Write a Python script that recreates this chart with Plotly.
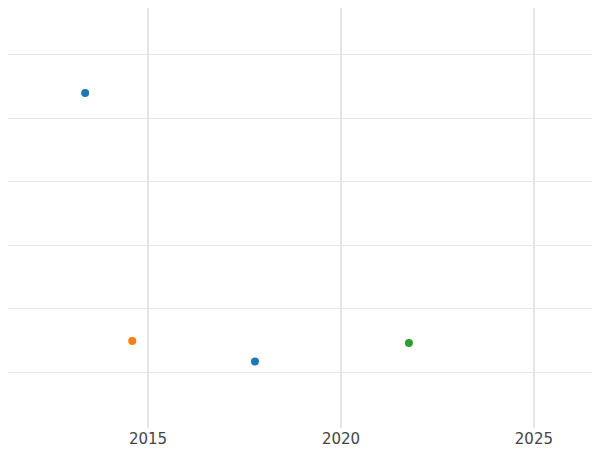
import plotly.graph_objects as go

years_a = [2013.37, 2017.77]
vals_a = [4.40, 0.17]
years_b = [2014.59]
vals_b = [0.49]
years_c = [2021.76]
vals_c = [0.46]

fig = go.Figure()
fig.add_trace(go.Scatter(x=years_a, y=vals_a, mode="markers", marker=dict(color="#1f77b4", size=8)))
fig.add_trace(go.Scatter(x=years_b, y=vals_b, mode="markers", marker=dict(color="#ff7f0e", size=8)))
fig.add_trace(go.Scatter(x=years_c, y=vals_c, mode="markers", marker=dict(color="#2ca02c", size=8)))
fig.update_layout(
    width=600, height=450, showlegend=False,
    margin=dict(l=0, r=0, t=0, b=30, pad=0, autoexpand=False),
    plot_bgcolor="white", paper_bgcolor="white",
    font=dict(family="DejaVu Sans, Verdana, sans-serif", size=15, color="#444"),
    xaxis=dict(range=[2011.37, 2026.92], tickvals=[2015, 2020, 2025], gridcolor="#e5e5e5",
               gridwidth=2, zeroline=False, showline=False, ticks="", automargin=False),
    yaxis=dict(range=[-0.88, 5.74], dtick=1, showticklabels=False, gridcolor="#e8e8e8",
               zeroline=False, showline=False, automargin=False),
)
fig.write_html("out.html")
